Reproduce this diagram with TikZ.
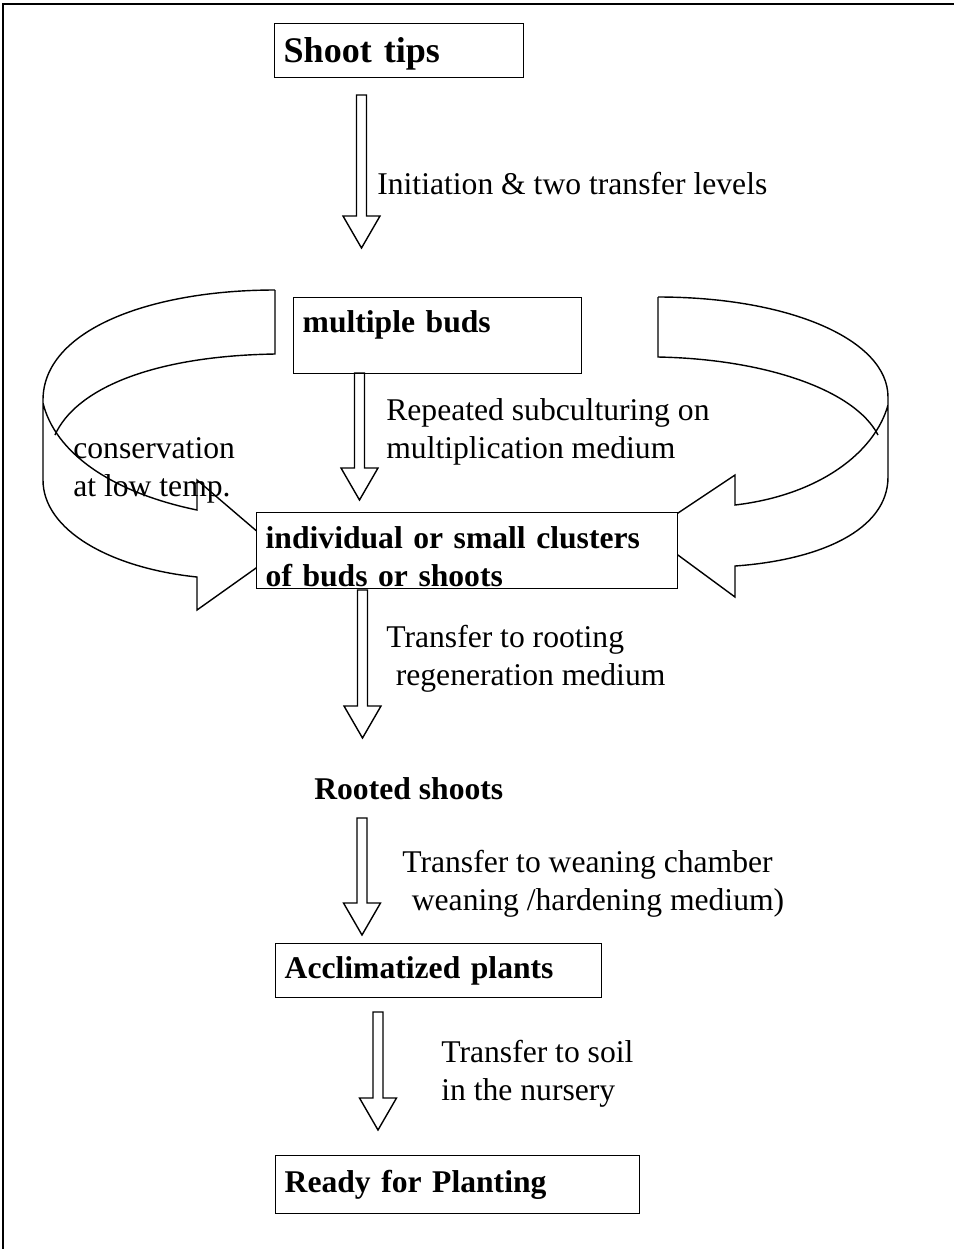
\documentclass[tikz,border=0pt]{standalone}
\usepackage{fontspec}
\setmainfont{Liberation Serif}
\usetikzlibrary{calc}

\tikzset{
  stage/.style={draw, fill=white, line width=0.8pt, anchor=north west, align=left,
    inner xsep=0.18cm, inner ysep=0pt, font=\bfseries\fontsize{18}{21.5}\selectfont},
  note/.style={anchor=west, align=left, inner sep=0pt, font=\fontsize{18}{21.5}\selectfont},
  hollow/.style={draw, line width=0.8pt, line join=miter},
  ribbon/.style={draw, line width=0.8pt, line join=miter}
}

% hollow block arrow from #1 down to #2
\newcommand{\hollowarrow}[2]{%
  \draw[hollow] ($(#1)+(-5,0)$) -- ($(#2)+(-5,-32)$) -- ($(#2)+(-18.5,-32)$) -- (#2)
    -- ($(#2)+(18.5,-32)$) -- ($(#2)+(5,-32)$) -- ($(#1)+(5,0)$) -- cycle;}

\begin{document}
\begin{tikzpicture}[x=0.02cm, y=-0.02cm]
	\useasboundingbox (0,0) rectangle (954,1249);
	
	\draw[line width=1.4pt] (3,1249) -- (3,4) -- (954,4);
	
	% left loop
	\draw[ribbon] (275,290) -- (275,354) .. controls (150,356) and (75,390) .. (55,435);
	\draw[ribbon] (275,290) .. controls (150,290) and (43,330) .. (43,400) -- (43,480)
		.. controls (43,530) and (110,568) .. (197,577) -- (197,610) -- (280,551) -- (197,480)
		-- (197,510) .. controls (110,492) and (55,452) .. (43,403);
	% right loop
	\draw[ribbon] (658,297) -- (658,357) .. controls (765,359) and (855,390) .. (878,435);
	\draw[ribbon] (658,297) .. controls (790,297) and (888,340) .. (888,397) -- (888,477)
		.. controls (888,530) and (820,560) .. (735,566) -- (735,597) -- (648,533) -- (735,475)
		-- (735,505) .. controls (820,495) and (875,452) .. (888,405);
	
	\node[stage, text width=4.62cm, minimum height=1.08cm, text height=0.78cm, text depth=0.30cm,
		font=\bfseries\fontsize{20.5}{24}\selectfont] (tips) at (274,23) {Shoot tips};
	\node[stage, text width=5.40cm, minimum height=1.52cm,
		text height=0.70cm, text depth=0.82cm] (buds) at (293,297) {multiple buds};
	\node[stage, text width=8.06cm, minimum height=1.52cm,
		text height=0.72cm, text depth=0.80cm] (clusters) at (256,512)
		{individual or small clusters\\of buds or shoots};
	\node[note, font=\bfseries\fontsize{18}{21.5}\selectfont] (rooted) at (314,789) {Rooted shoots};
	\node[stage, text width=6.16cm, minimum height=1.08cm] (acclim) at (275,943) {Acclimatized plants};
	\node[stage, text width=6.92cm, minimum height=1.16cm] (ready) at (275,1155) {Ready for Planting};
	
	\node[note] (cons) at (73,470) {conservation\\at low temp.};
	\node[note] (init) at (377,184) {Initiation \& two transfer levels};
	\node[note] (subc) at (386,432) {Repeated subculturing on\\multiplication medium};
	\node[note] (root) at (386,659) {Transfer to rooting\\\hspace*{0.3em}regeneration medium};
	\node[note] (wean) at (402,884) {Transfer to weaning chamber\\\hspace*{0.3em}weaning /hardening medium)};
	\node[note] (soil) at (441,1074) {Transfer to soil\\in the nursery};
	
	\coordinate (s1) at (361.5,95);  \coordinate (e1) at (361.5,248);
	\coordinate (s2) at (359.5,373); \coordinate (e2) at (359.5,500);
	\coordinate (s3) at (362.5,590); \coordinate (e3) at (362.5,738);
	\coordinate (s4) at (362,818);   \coordinate (e4) at (362,935);
	\coordinate (s5) at (378,1012);  \coordinate (e5) at (378,1130);
	\foreach \i in {1,...,5}
		\hollowarrow{s\i}{e\i};
	
\end{tikzpicture}
\end{document}
